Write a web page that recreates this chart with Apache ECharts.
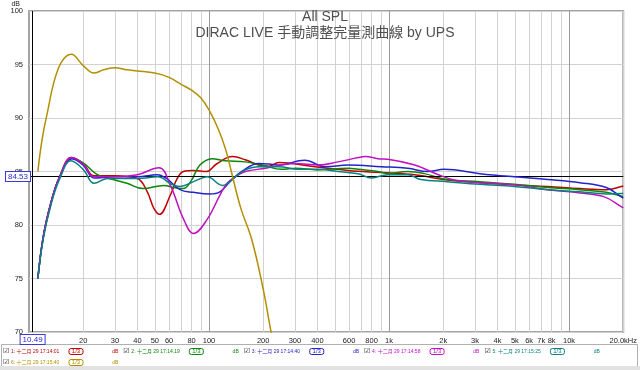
<!DOCTYPE html>
<html><head><meta charset="utf-8">
<script src="https://cdn.jsdelivr.net/npm/echarts@6/dist/echarts.min.js"></script>
<style>html,body{margin:0;padding:0;background:#fff}#c{width:640px;height:370px}</style>
</head><body><div id="c"></div>
<script>
const titleLines = ['All SPL', 'DIRAC LIVE 手動調整完量測曲線 by UPS'];
const seriesNames = ['1: 十二月 29 17:14:01','2: 十二月 29 17:14:19','3: 十二月 29 17:14:40','4: 十二月 29 17:14:58','5: 十二月 29 17:15:25','6: 十二月 29 17:15:40'];
const seriesColors = ['#c00000','#0a870a','#2424cc','#c010c0','#0a8080','#b38f00'];

const freq1 = [11.2,12,13.3,14.8,17.2,20,23,30,40,45.4,49.4,53,61,66.6,72,82,97,110,135,159,189,215,244,276,388,593,904,1390,2100,3200,4970,7600,11500,16100,19600,20000];
const spl1  = [75.0,78.9,82.2,84.5,86.3,85.75,84.6,84.6,84.35,83.1,81.55,81.0,82.8,84.35,85.0,85.1,85.0,85.7,86.4,86.1,85.6,85.5,85.85,85.8,85.45,85.1,84.9,84.7,84.2,83.95,83.75,83.6,83.4,83.3,83.6,83.65];

const freq2 = [11.2,12,13.3,14.8,17.3,20,24,30,35,43,56,64,72,80,89,104,123,159,197,254,303,400,593,674,868,985,1270,1570,2100,3200,4970,7600,11500,16100,19600,20000];
const spl2  = [75.0,78.9,82.2,84.5,86.25,85.8,84.7,84.2,83.9,83.4,83.7,83.5,83.4,84.2,85.6,86.2,86.0,85.9,85.6,85.2,85.3,85.15,85.3,85.2,85.0,84.8,85.0,84.8,84.25,84.05,83.8,83.5,83.3,83.05,82.7,82.65];

const freq3 = [11.2,12,13.3,14.8,17.3,20,23,30,40,51.6,58,69,82,101,115,130,152,189,215,244,340,441,593,904,1270,1640,2020,3200,4970,7600,11500,16100,19600,20000];
const spl3  = [75.0,78.9,82.2,84.5,86.2,85.6,84.4,84.5,84.5,84.7,84.35,83.3,83.05,82.9,83.1,84.0,85.0,85.75,85.7,85.6,86.05,85.45,85.6,85.45,85.3,85.0,85.2,84.8,84.5,84.25,83.95,83.5,82.6,82.5];

const freq4 = [11.2,12,13.3,14.8,17.2,20,23,30,40,52.7,61,72,82,97.5,115,126,140,159,206,254,303,404,521,674,737,868,985,1390,1880,2300,3200,4970,7600,11500,15600,19600,20000];
const spl4  = [75.0,78.9,82.2,84.5,86.3,85.7,84.5,84.5,84.7,85.35,83.7,80.6,79.2,80.5,82.8,83.9,84.5,85.0,85.3,85.6,85.75,85.6,85.9,86.3,86.4,86.2,86.15,85.6,84.7,84.2,83.95,83.75,83.3,83.0,82.65,81.7,81.6];

const freq5 = [11.2,12,13.3,14.8,17.1,20,23,27.3,40,52,62,69,82,97.5,119,140,159,189,244,314,404,521,674,798,985,1270,1500,2100,3200,4970,7600,11500,16100,19600,20000];
const spl5  = [75.0,78.7,82.0,84.3,86.0,85.2,83.9,84.35,84.35,84.5,83.8,83.6,84.05,84.5,83.7,84.5,85.15,85.45,85.45,85.2,85.2,85.0,84.8,84.4,84.7,84.7,84.25,84.05,83.8,83.6,83.3,83.1,82.9,82.95,82.95];

const freq6 = [11.2,11.75,12.5,14.6,17.2,20,22.9,26,30,35,40,50,60,70,80,90,100,113,124,133,150,173,200,220,240];
const spl6  = [85.0,87.7,90.1,94.7,95.95,94.9,94.2,94.5,94.7,94.5,94.4,94.2,93.8,93.15,92.6,91.9,90.75,88.9,87.0,85.0,81.6,78.6,74.0,70.2,67.0];

const tickFreqs  = [20,30,40,50,60,80,100,200,300,400,600,800,1000,2000,3000,4000,5000,6000,7000,8000,10000,20000];
const tickLabels = ['20','30','40','50','60','80','100','200','300','400','600','800','1k','2k','3k','4k','5k','6k','7k','8k','10k','20.0kHz'];
const gridFreqs  = [20,30,40,50,60,70,80,90,100,200,300,400,500,600,700,800,900,1000,2000,3000,4000,5000,6000,7000,8000,9000,10000,20000];
const cursorFreq = 10.49;
const cursorLevel = 84.53;
const freqMin = 10, freqMax = 20000;
const yMin = 70, yMax = 100, yStep = 5;

const freqs = [freq1,freq2,freq3,freq4,freq5,freq6];
const spls  = [spl1,spl2,spl3,spl4,spl5,spl6];
const FONT = '"Liberation Sans", Arial, "Noto Sans CJK TC", sans-serif';

const lg = Math.log10;
const chart = echarts.init(document.getElementById('c'), null, {renderer:'canvas'});

const rich = {c:{width:8,fontSize:7,color:'#222',fontFamily:'DejaVu Sans'}, g:{width:24}};
seriesColors.forEach((col,i)=>{
  rich['n'+i] = {width:58,fontSize:5,color:col,fontFamily:FONT};
  rich['b'+i] = {width:10,align:'center',fontSize:6,color:col,borderColor:col,borderWidth:1,borderRadius:2,padding:[0,2],lineHeight:8,fontFamily:FONT};
  rich['d'+i] = {width:16.6,fontSize:5,color:col,fontFamily:FONT};
});
const legendFmt = (name)=>{const i=seriesNames.indexOf(name); return '{c|☑}{n'+i+'|'+name+'}{b'+i+'|1/3}{g| }{d'+i+'|dB}';};
const legendBase = {left:-2, width:700, padding:0, itemGap:0, icon:'none', itemWidth:0, itemHeight:0, selectedMode:false,
  formatter:legendFmt, textStyle:{rich:rich, fontSize:5, padding:0}};

const lineSeries = seriesNames.map((nm,i)=>({
  name:nm, type:'line', showSymbol:false, smooth:0.4, clip:true,
  lineStyle:{color:seriesColors[i], width:1.5}, itemStyle:{color:seriesColors[i]},
  data: freqs[i].map((f,j)=>[lg(f), spls[i][j]]), z:3+i
}));

const gridColors = ['#d2d2d2','#d2d2d2','#d2d2d2','#d2d2d2','#d2d2d2','#d2d2d2','#d2d2d2','#d2d2d2','#9a9a9a'];

chart.setOption({
  animation:false,
  backgroundColor:'#fff',
  title:{text:titleLines.join('\n'), left:320, top:4, textAlign:'center',
    textStyle:{fontSize:14, fontWeight:'normal', color:'#4f4f4f', lineHeight:16, fontFamily:FONT, align:'center'}},
  graphic:[
    {type:'rect', shape:{x:0,y:366,width:640,height:4}, style:{fill:'#e2e2e2'}, silent:true},
    {type:'rect', shape:{x:1.5,y:344.5,width:636,height:22}, style:{fill:'#fff',stroke:'#b0b0b0',lineWidth:1}, silent:true, z:-1}
  ],
  legend:[
    Object.assign({}, legendBase, {data:seriesNames.slice(0,5), top:348}),
    Object.assign({}, legendBase, {data:seriesNames.slice(5), top:359})
  ],
  grid:{left:29, right:14, top:11, bottom:38, show:true, borderColor:'#a4a4a4', borderWidth:2, backgroundColor:'#fff'},
  xAxis:{type:'value', min:lg(freqMin), max:lg(freqMax),
    axisLine:{show:false},
    axisTick:{show:false, customValues:gridFreqs.map(lg)},
    axisLabel:{customValues:tickFreqs.map(lg), margin:5, fontSize:7.5, color:'#222', fontFamily:FONT,
      formatter:(v)=>{let bi=0,bd=1e9; tickFreqs.forEach((f,k)=>{const d=Math.abs(lg(f)-v); if(d<bd){bd=d;bi=k;}}); return tickLabels[bi];}},
    splitLine:{show:true, lineStyle:{color:gridColors, width:1}}
  },
  yAxis:{type:'value', min:yMin, max:yMax, interval:yStep, name:'dB', nameLocation:'end', nameGap:1,
    nameTextStyle:{fontSize:7, color:'#222', align:'right', padding:[0,9,0,0], fontFamily:FONT},
    axisLine:{show:false}, axisTick:{show:false},
    axisLabel:{margin:6, fontSize:7.5, color:'#222', fontFamily:FONT},
    splitLine:{show:true, lineStyle:{color:'#d2d2d2', width:1}}
  },
  series:[...lineSeries,
    {type:'line', name:'cursor', data:[], silent:true, z:10,
      markLine:{symbol:'none', silent:true, animation:false,
        lineStyle:{color:'#000', width:1, type:'solid'},
        data:[
          {yAxis:cursorLevel, label:{position:'start', distance:-1, formatter:cursorLevel.toFixed(2), color:'#2a2ad0', backgroundColor:'#fff', borderColor:'#3a3ad8', borderWidth:1, padding:[1,2,0,2], fontSize:8, fontFamily:FONT}},
          {xAxis:lg(cursorFreq), label:{position:'start', distance:3, formatter:cursorFreq.toFixed(2), color:'#2a2ad0', backgroundColor:'#fff', borderColor:'#3a3ad8', borderWidth:1, padding:[1,2,0,2], fontSize:8, fontFamily:FONT}}
        ]}}
  ]
});
</script></body></html>
